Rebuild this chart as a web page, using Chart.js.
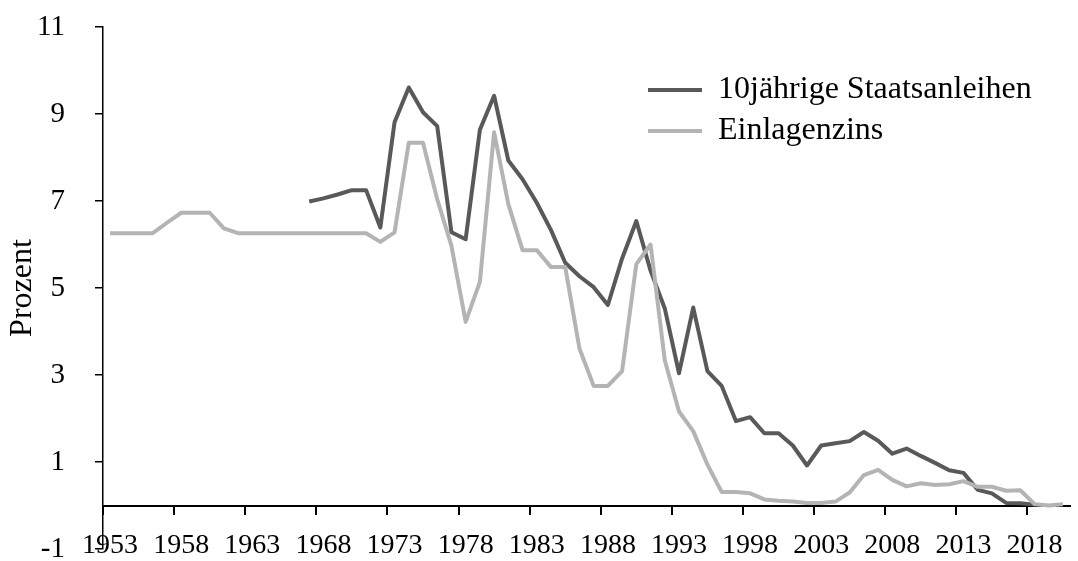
<!DOCTYPE html>
<html>
<head>
<meta charset="utf-8">
<script src="https://cdn.jsdelivr.net/npm/chart.js@4/dist/chart.umd.min.js"></script>
<style>
  body { margin: 0; background: #fff; }
  #wrap { width: 1078px; height: 561px; position: relative; }
</style>
</head>
<body>
<div id="wrap"><canvas id="myChart"></canvas></div>
<script>
// categories: every year 1953 - 2020
var years = ['1953','1954','1955','1956','1957','1958','1959','1960','1961','1962',
  '1963','1964','1965','1966','1967','1968','1969','1970','1971','1972',
  '1973','1974','1975','1976','1977','1978','1979','1980','1981','1982',
  '1983','1984','1985','1986','1987','1988','1989','1990','1991','1992',
  '1993','1994','1995','1996','1997','1998','1999','2000','2001','2002',
  '2003','2004','2005','2006','2007','2008','2009','2010','2011','2012',
  '2013','2014','2015','2016','2017','2018','2019','2020'];

// only these years get a label on the axis
var tickYears = ['1953','1958','1963','1968','1973','1978','1983','1988','1993','1998','2003','2008','2013','2018'];

// 10jaehrige Staatsanleihen (starts 1967)
var bonds = [null,null,null,null,null,null,null,null,null,null,
  null,null,null,null,6.99,7.06,7.15,7.25,7.25,6.39,
  8.81,9.61,9.04,8.72,6.28,6.12,8.64,9.42,7.93,7.50,
  6.96,6.33,5.58,5.27,5.02,4.61,5.68,6.54,5.40,4.53,
  3.04,4.55,3.09,2.75,1.94,2.03,1.66,1.66,1.38,0.92,
  1.38,1.43,1.48,1.69,1.49,1.19,1.31,1.14,0.98,0.81,
  0.75,0.36,0.28,0.06,0.05,0.02,null,null];

// Einlagenzins
var deposit = [6.26,6.26,6.26,6.26,6.50,6.73,6.73,6.73,6.37,6.26,
  6.26,6.26,6.26,6.26,6.26,6.26,6.26,6.26,6.26,6.06,
  6.28,8.34,8.34,7.04,5.97,4.22,5.14,8.58,6.93,5.87,
  5.87,5.48,5.48,3.61,2.75,2.75,3.09,5.55,6.00,3.34,
  2.16,1.71,0.94,0.31,0.31,0.28,0.14,0.11,0.09,0.06,
  0.06,0.09,0.30,0.70,0.82,0.59,0.44,0.51,0.47,0.49,
  0.56,0.43,0.43,0.34,0.35,0.03,0.00,0.03];

var seriesNames = ['10jährige Staatsanleihen', 'Einlagenzins'];

Chart.defaults.font.family = '"Liberation Serif", "Times New Roman", serif';
Chart.defaults.color = '#000';

//move the legend to the upper right inside the plot
var legendMover = {
  id: 'legendMover',
  afterLayout: function(chart) {
    var lg = chart.legend;
    if (!lg) return;
    lg.left = 639;
    lg.top = 65;
    lg.right = lg.left + lg.width;
    lg.bottom = lg.top + lg.height;
  }
};

var ctx = document.getElementById('myChart');
var myChart = new Chart(ctx, {
  type: 'line',
  data: {
    labels: years,
    datasets: [
      {
        label: seriesNames[0],
        data: bonds,
        borderColor: '#595959',
        backgroundColor: '#595959',
        borderWidth: 4,
        pointRadius: 0,
        tension: 0,
        borderJoinStyle: 'round',
        order: 1
      },
      {
        label: seriesNames[1],
        data: deposit,
        borderColor: '#b4b4b4',
        backgroundColor: '#b4b4b4',
        borderWidth: 4,
        pointRadius: 0,
        tension: 0,
        borderJoinStyle: 'round',
        order: 0
      }
    ]
  },
  options: {
    responsive: true,
    maintainAspectRatio: false,
    animation: false,
    layout: { padding: { top: 27, bottom: 12, left: 0, right: 0 } },
    plugins: {
      tooltip: { enabled: false },
      legend: {
        position: 'chartArea',
        align: 'start',
        labels: {
          usePointStyle: true,
          pointStyle: 'line',
          pointStyleWidth: 54,
          padding: 9,
          color: '#000',
          font: { size: 32 },
          sort: function(a, b) { return a.datasetIndex - b.datasetIndex; }
        }
      }
    },
    scales: {
      x: {
        type: 'category',
        position: { y: 0 },
        offset: true,
        grid: {
          offset: true,
          drawOnChartArea: false,
          drawTicks: true,
          tickLength: 8,
          lineWidth: 2,
          color: function(c) { return c.index % 5 === 0 ? '#000' : 'rgba(0,0,0,0)'; }
        },
        border: { display: true, color: '#000', width: 2 },
        ticks: {
          autoSkip: false,
          maxRotation: 0,
          minRotation: 0,
          padding: 15,
          color: '#000',
          font: { size: 28 },
          callback: function(value, index) {
            return tickYears.indexOf(years[index]) >= 0 ? years[index] : '';
          }
        },
        afterFit: function(scale) { scale.height = 0; }
      },
      y: {
        min: -1,
        max: 11,
        ticks: { stepSize: 2, padding: 30, color: '#000', font: { size: 29 } },
        grid: { drawOnChartArea: false, tickLength: 8, color: '#000', lineWidth: 1.5 },
        border: { display: true, color: '#000', width: 1.5 },
        title: {
          display: true,
          text: 'Prozent',
          color: '#000',
          font: { size: 32 },
          padding: { top: 3, bottom: 0 }
        },
        afterFit: function(scale) {
          scale.width = 103;
          // label padding should not push the plot area in
          scale.paddingTop = 0;
          scale.paddingBottom = 0;
        }
      }
    }
  },
  plugins: [legendMover]
});
</script>
</body>
</html>
